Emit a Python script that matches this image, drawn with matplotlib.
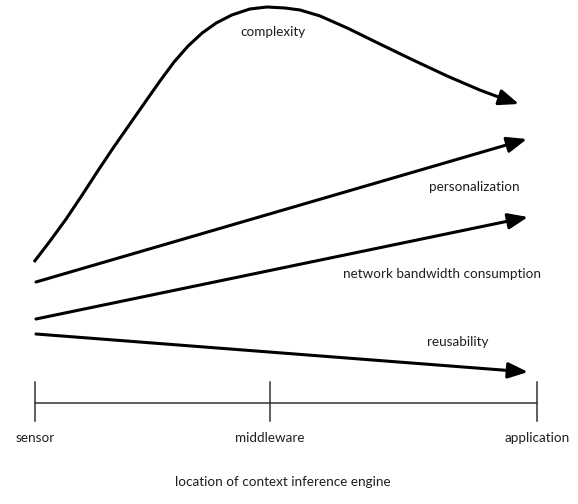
import matplotlib
matplotlib.use("Agg")
import matplotlib.pyplot as plt
import numpy as np

# x: 0 = sensor, 1 = application; y: arbitrary level, timeline at 0
stage_names = ["sensor", "middleware", "application"]
stage_x = [0.0, 0.468, 1.0]

complexity_x = [-0.002, 0.030, 0.062, 0.094, 0.125, 0.157, 0.189, 0.221, 0.249,
                0.277, 0.305, 0.333, 0.361, 0.392, 0.428, 0.462, 0.498, 0.528,
                0.568, 0.622, 0.687, 0.753, 0.821, 0.886, 0.926, 0.964]
complexity_y = [1.41, 1.62, 1.84, 2.08, 2.32, 2.56, 2.79, 3.02, 3.22,
                3.41, 3.57, 3.70, 3.80, 3.88, 3.94, 3.96, 3.95, 3.93,
                3.87, 3.75, 3.59, 3.43, 3.27, 3.13, 3.055, 2.99]

# straight trends: (start, end) levels
trend_names = ["personalization", "network bandwidth consumption", "reusability"]
trend_x0 = [0.002, 0.002, 0.002]
trend_x1 = [0.980, 0.982, 0.982]
trend_y0 = [1.21, 0.84, 0.69]
trend_y1 = [2.64, 1.86, 0.31]

# label anchors (center)
label_names = ["complexity"] + trend_names
label_x = [0.474, 0.876, 0.811, 0.843]
label_y = [3.71, 2.16, 1.29, 0.61]

xlabel = "location of context inference engine"

FONT = ["Lato", "DejaVu Sans"]
TXT = "#1e1e1e"
head = "-|>,head_length=0.6,head_width=0.24"

fig = plt.figure(figsize=(5.78, 5.04), dpi=100)
ax = fig.add_axes([0, 0, 1, 1])
ax.set_xlim(-0.0697, 1.0817)
ax.set_ylim(-1.01, 4.03)
ax.set_axis_off()

# complexity curve with arrowhead on last segment
ax.plot(complexity_x[:-1], complexity_y[:-1], color="black", lw=2.2,
        solid_capstyle="butt", solid_joinstyle="round")
ax.annotate("", xy=(complexity_x[-1], complexity_y[-1]),
            xytext=(complexity_x[-2], complexity_y[-2]),
            arrowprops=dict(arrowstyle=head, color="black", lw=2.2,
                            mutation_scale=20, shrinkA=0, shrinkB=0))

for x0, x1, y0, y1 in zip(trend_x0, trend_x1, trend_y0, trend_y1):
    ax.annotate("", xy=(x1, y1), xytext=(x0, y0),
                arrowprops=dict(arrowstyle=head, color="black", lw=2.2,
                                mutation_scale=20, shrinkA=0, shrinkB=0))

for name, x, y in zip(label_names, label_x, label_y):
    ax.text(x, y, name, ha="center", va="center", fontsize=9.7,
            family=FONT, color=TXT)

# timeline
ax.plot([stage_x[0], stage_x[-1]], [0, 0], color="#333333", lw=1.1)
for name, x in zip(stage_names, stage_x):
    ax.plot([x, x], [0.21, -0.18], color="#333333", lw=1.1)
    ax.text(x, -0.35, name, ha="center", va="center", fontsize=9.7,
            family=FONT, color=TXT)

ax.text(0.494, -0.79, xlabel, ha="center", va="center", fontsize=9.7,
        family=FONT, color=TXT)

fig.savefig("out.png", dpi=100, facecolor="white")
